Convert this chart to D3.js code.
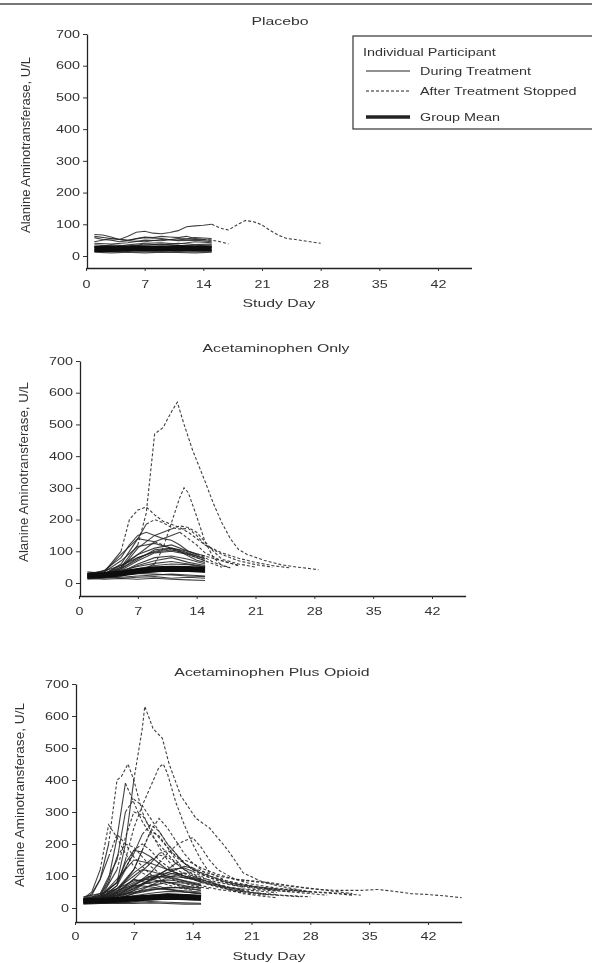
<!DOCTYPE html>
<html>
<head>
<meta charset="utf-8">
<script src="https://cdn.jsdelivr.net/npm/d3@7"></script>
<style>
    body { margin: 0; background: #fff; }
    text { font-family: "Liberation Sans", Arial, sans-serif; fill: #333; }
</style>
</head>
<body>
<div id="chart"></div>
<script>
const panelTitles = ['Placebo', 'Acetaminophen Only', 'Acetaminophen Plus Opioid'];
const yTicks = [0, 100, 200, 300, 400, 500, 600, 700];
const xTicks = [0, 7, 14, 21, 28, 35, 42];
const yLabel = 'Alanine Aminotransferase, U/L';
const xLabel = 'Study Day';
const legendTitle = 'Individual Participant';
const legendItems = ['During Treatment', 'After Treatment Stopped', 'Group Mean'];

// each participant: [last treatment day, [[day, ALT], ...]]
const placeboParticipants = [
    [15, [[1,68],[2,66],[3,60],[4,52],[5,62],[6,75],[7,78],[8,72],[9,70],[10,74],[11,80],[12,92],[13,95],[14,97],[15,100],[16,88],[17,82],[18,98],[19,112],[20,108],[21,98],[22,80],[23,65],[24,55],[25,52],[26,48],[27,44],[28,40]]],
    [14, [[1,58],[2,52],[3,50],[4,45],[5,48],[6,55],[7,60],[8,58],[9,62],[10,60],[11,58],[12,62],[13,55],[14,52],[15,50],[16,45],[17,38]]],
    [15, [[1,40],[3,38],[5,42],[7,50],[9,48],[11,55],[13,52],[15,50]]],
    [15, [[1,30],[3,28],[5,35],[7,40],[9,42],[11,38],[13,45],[15,42]]],
    [15, [[1,25],[3,22],[5,28],[7,30],[9,26],[11,30],[13,28],[15,30]]],
    [15, [[1,18],[3,20],[5,16],[7,20],[9,22],[11,18],[13,20],[15,18]]],
    [15, [[1,15],[3,14],[5,18],[7,15],[9,16],[11,14],[13,16],[15,15]]],
    [15, [[1,45],[3,55],[5,48],[7,45],[9,52],[11,50],[13,58],[15,55]]],
    [15, [[1,35],[3,32],[5,30],[7,38],[9,35],[11,40],[13,36],[15,38]]],
    [15, [[1,12],[3,10],[5,12],[7,10],[9,12],[11,11],[13,10],[15,12]]],
    [15, [[1,28],[3,35],[5,32],[7,34],[9,38],[11,34],[13,32],[15,35]]],
    [15, [[1,20],[3,26],[5,24],[7,28],[9,30],[11,26],[13,30],[15,26]]],
    [15, [[1,62],[3,55],[5,50],[7,58],[9,55],[11,48],[13,50],[15,45]]]
];
const placeboMean = [[1,22],[3,22],[5,23],[7,24],[9,24],[11,25],[13,24],[15,24]];

const apapParticipants = [
    [7, [[1,25],[3,28],[5,50],[7,120],[8,220],[9,470],[10,490],[11,540],[11.7,570],[12.5,500],[13.5,420],[15,320],[16,250],[17,190],[18,140],[19,105],[20,90],[22,72],[24,58],[26,50],[28.5,42]]],
    [9, [[1,20],[3,22],[5,25],[7,35],[9,60],[10,110],[11,190],[12,270],[12.5,300],[13,285],[14,210],[15,130],[16,80],[17,55],[18,48]]],
    [5, [[1,25],[3,35],[5,100],[6,200],[7,230],[8,240],[9,215],[10,195],[11,185],[12,175],[13,160],[14,140],[15,120],[17,95],[19,78],[21,65],[23,55],[25,48]]],
    [8, [[1,22],[3,28],[5,60],[7,140],[8,185],[9,200],[10,190],[11,175],[12,170],[13,172],[14,150],[15,120],[17,90],[19,70],[21,58],[23,50]]],
    [11, [[1,20],[3,25],[5,45],[7,110],[9,150],[11,170],[12,180],[13,175],[14,160],[15,130],[16,100],[17,75],[19,60],[21,50]]],
    [14, [[1,25],[3,40],[5,80],[6,120],[7,150],[8,160],[9,150],[10,140],[11,135],[12,120],[13,100],[14,90],[15,85],[17,70],[19,55]]],
    [9, [[1,22],[3,35],[5,90],[7,140],[9,130],[10,120],[11,105],[13,90],[15,70],[17,50]]],
    [15, [[1,20],[3,25],[5,45],[7,80],[9,100],[10,105],[11,108],[12,100],[13,85],[14,72],[15,65]]],
    [15, [[1,25],[3,25],[5,40],[7,70],[9,95],[11,100],[13,90],[15,70]]],
    [15, [[1,18],[3,22],[5,35],[7,60],[9,80],[11,85],[13,75],[15,60]]],
    [15, [[1,30],[3,28],[5,35],[7,55],[9,70],[11,80],[13,65],[15,55]]],
    [15, [[1,20],[3,20],[5,28],[7,45],[9,55],[11,60],[13,58],[15,50]]],
    [15, [[1,15],[3,18],[5,22],[7,35],[9,45],[11,48],[13,45],[15,40]]],
    [15, [[1,25],[3,22],[5,25],[7,30],[9,35],[11,40],[13,38],[15,35]]],
    [15, [[1,12],[3,15],[5,18],[7,22],[9,25],[11,28],[13,25],[15,22]]],
    [15, [[1,20],[3,18],[5,15],[7,18],[9,20],[11,15],[13,18],[15,15]]],
    [15, [[1,35],[3,30],[5,28],[7,30],[9,28],[11,25],[13,22],[15,20]]],
    [15, [[1,15],[3,12],[5,14],[7,12],[9,15],[11,12],[13,10],[15,8]]],
    [14, [[1,20],[3,30],[5,55],[7,90],[9,110],[11,120],[13,100],[14,90],[15,80],[16,65],[18,48]]],
    [12, [[1,25],[3,30],[5,50],[7,90],[9,130],[11,150],[12,160],[13,140],[14,120],[15,95],[17,70],[19,55]]],
    [15, [[1,22],[3,35],[5,70],[7,115],[9,125],[11,110],[13,95],[15,75]]],
    [15, [[1,28],[3,30],[5,45],[7,75],[9,105],[11,110],[13,100],[15,85]]],
    [15, [[1,30],[3,38],[5,55],[7,80],[9,98],[11,104],[13,92],[15,78]]],
    [15, [[1,24],[3,30],[5,40],[7,52],[9,62],[11,68],[13,60],[15,52]]],
    [15, [[1,16],[3,20],[5,26],[7,32],[9,38],[11,42],[13,40],[15,36]]]
];
const apapMean = [[1,23],[3,25],[5,30],[7,38],[9,43],[11,45],[13,44],[15,42]];

const opioidParticipants = [
    [7, [[1,25],[3,35],[5,80],[6,200],[7,400],[8,560],[8.3,630],[9.3,560],[10.4,530],[11.2,450],[12.6,350],[14.4,280],[16,250],[17.6,200],[18.2,180],[19,150],[20,110],[22,85],[24,70],[26,60],[28,50]]],
    [4, [[1,25],[2,40],[3,90],[4,200],[5,400],[5.5,410],[6.3,450],[7,400],[8,300],[9,240],[10,190],[11,150],[12,120],[14,95],[16,80],[18,65],[21,55],[24,48]]],
    [6, [[1,22],[3,30],[5,70],[6,150],[7,250],[8,320],[9,380],[10,440],[10.5,450],[11,420],[12,330],[13,260],[14,200],[15,150],[16,110],[18,85],[20,70],[23,60],[26,55],[29,50],[32,45],[34,40]]],
    [6, [[1,25],[3,40],[4,90],[5,220],[6,390],[7,330],[8,270],[9,230],[10,200],[11,170],[12,140],[14,100],[16,80],[18,65],[20,55]]],
    [3, [[1,30],[2,50],[3,120],[4,260],[5,220],[6,170],[7,130],[8,110],[9,95],[10,80],[12,65],[14,55]]],
    [6, [[1,25],[3,45],[5,150],[6,300],[7,340],[8,320],[9,280],[10,240],[11,200],[12,170],[13,140],[15,110],[17,90],[19,75],[22,65],[25,55],[28,50]]],
    [5, [[1,20],[3,30],[5,120],[6,220],[7,300],[8,290],[9,250],[10,220],[11,190],[12,150],[13,120],[15,90],[17,70],[20,55]]],
    [8, [[1,22],[3,30],[5,50],[7,120],[8,180],[9,240],[10,280],[11,250],[12,210],[13,170],[14,140],[16,100],[18,80],[21,65],[24,55]]],
    [10, [[1,20],[3,25],[5,40],[7,70],[9,110],[10,140],[11,170],[12,195],[13,210],[14,220],[15,190],[16,150],[17,120],[19,90],[21,75],[24,62],[27,55]]],
    [8, [[1,25],[3,35],[5,80],[7,170],[8,230],[9,260],[10,240],[11,200],[12,170],[13,140],[15,105],[17,85],[20,65]]],
    [5, [[1,25],[3,40],[4,80],[5,160],[6,200],[7,190],[8,160],[9,130],[10,110],[12,85],[14,70],[16,60]]],
    [4, [[1,28],[2,45],[3,90],[4,160],[5,230],[6,200],[7,160],[8,130],[9,105],[11,80],[13,65],[15,55]]],
    [10, [[1,22],[3,28],[5,45],[7,90],[9,140],[10,170],[11,180],[12,165],[13,140],[14,120],[16,100],[18,85],[20,75],[22,65],[25,58],[28,50],[31,45],[33,40]]],
    [12, [[1,20],[3,25],[5,35],[7,60],[9,90],[11,120],[12,140],[13,150],[14,140],[15,125],[17,105],[19,90],[21,85],[23,80],[25,72],[27,65],[30,55],[33,45]]],
    [14, [[1,25],[3,30],[5,40],[7,60],[9,85],[11,110],[13,130],[14,125],[15,115],[17,100],[19,90],[22,80],[25,70],[28,60],[31,55],[34,55],[36,58],[38,52],[40,45],[42,42],[44,38],[46,32]]],
    [13, [[1,20],[3,22],[5,28],[7,45],[9,70],[11,95],[13,110],[14,100],[15,90],[17,75],[19,60],[21,50],[23,42],[25,38],[27,35]]],
    [14, [[1,18],[3,20],[5,30],[7,55],[9,90],[11,120],[13,125],[14,115],[16,85],[18,60],[20,45],[22,38],[24,32]]],
    [15, [[1,25],[3,30],[5,60],[7,100],[8,120],[9,115],[11,100],[13,85],[15,75]]],
    [15, [[1,22],[3,28],[5,45],[7,75],[9,95],[11,100],[13,95],[15,85],[16,75],[18,60],[20,50]]],
    [15, [[1,20],[3,22],[5,35],[7,55],[9,70],[11,80],[13,78],[15,70]]],
    [15, [[1,25],[3,25],[5,30],[7,45],[9,55],[11,65],[13,62],[15,55]]],
    [15, [[1,18],[3,20],[5,22],[7,30],[9,40],[11,45],[13,42],[15,38]]],
    [15, [[1,15],[3,15],[5,18],[7,20],[9,25],[11,28],[13,26],[15,24]]],
    [15, [[1,20],[3,18],[5,16],[7,18],[9,20],[11,18],[13,16],[15,15]]],
    [15, [[1,30],[3,32],[5,40],[7,50],[9,60],[11,58],[13,50],[15,45]]],
    [15, [[1,12],[3,14],[5,15],[7,14],[9,16],[11,14],[13,12],[15,12]]],
    [6, [[1,22],[3,30],[5,70],[6,120],[7,180],[8,200],[9,180],[10,150],[11,130],[12,110],[14,90],[16,75],[18,65],[20,60],[23,55],[26,50]]],
    [15, [[1,25],[3,35],[5,90],[7,150],[9,140],[11,120],[13,100],[15,85]]],
    [9, [[1,20],[3,30],[5,60],[7,110],[9,150],[10,165],[11,160],[12,140],[13,120],[15,95],[17,80],[19,70],[22,60],[25,52],[28,45],[30,40]]],
    [7, [[1,25],[3,35],[5,60],[7,120],[8,180],[9,240],[10,225],[11,190],[12,160],[14,120],[16,95],[18,80],[21,68],[24,58]]],
    [15, [[1,28],[3,40],[5,80],[6,140],[7,180],[8,175],[9,160],[10,140],[11,120],[13,100],[15,90]]],
    [15, [[1,22],[3,25],[5,40],[7,70],[9,100],[11,110],[12,105],[13,95],[14,90],[15,80],[17,65],[19,55],[21,48],[23,42],[26,38],[28,35]]],
    [15, [[1,35],[3,45],[5,60],[7,85],[9,90],[11,80],[13,70],[15,60]]],
    [15, [[1,18],[3,25],[5,50],[7,90],[9,75],[11,60],[13,50],[15,45]]],
    [15, [[1,22],[3,30],[5,48],[7,68],[9,80],[11,88],[13,82],[15,72]]],
    [15, [[1,26],[3,34],[5,55],[7,72],[9,66],[11,58],[13,54],[15,50]]],
    [12, [[1,20],[3,26],[5,42],[7,64],[9,88],[11,104],[12,110],[13,100],[15,82],[17,68],[19,56],[21,48],[24,42]]],
    [15, [[1,24],[3,28],[5,38],[7,48],[9,58],[11,62],[13,66],[15,64]]],
    [15, [[1,16],[3,20],[5,28],[7,38],[9,46],[11,52],[13,50],[15,46]]],
    [13, [[1,24],[3,30],[5,52],[7,80],[9,100],[11,95],[13,85],[15,70],[17,58],[20,48],[23,40]]]
];
const opioidMean = [[1,22],[3,23],[5,26],[7,30],[9,33],[11,35],[13,34],[15,32]];


document.addEventListener('DOMContentLoaded', function () {
    const w = 592,
        h = 963,
        sx = 1.44; // the scan is stretched sideways

    const svg = d3.select('#chart')
        .append('svg')
        .attr('width', w)
        .attr('height', h);

    const defs = svg.append('defs');
    defs.append('filter').attr('id', 'scan')
        .append('feGaussianBlur').attr('stdDeviation', 0.45);

    const root = svg.append('g').attr('filter', 'url(#scan)');

    // scanner edge at the top
    root.append('line')
        .attr('x1', 0).attr('x2', w).attr('y1', 4).attr('y2', 4)
        .attr('stroke', '#777').attr('stroke-width', 2);

    const panels = [
        {title: panelTitles[0], people: placeboParticipants, mean: placeboMean,
            x0: 86, x42: 438, zeroY: 256, topY: 34, axisY: 268, titleY: 25, titleX: 280,
            labelX: 25, labelY: 145, labelLen: 176, tickY: 20, dayLabelY: 307, dayLabelX: 279},
        {title: panelTitles[1], people: apapParticipants, mean: apapMean,
            x0: 79, x42: 432, zeroY: 583, topY: 361, axisY: 596, titleY: 352, titleX: 276,
            labelX: 23, labelY: 472, labelLen: 180, tickY: 19, dayLabelY: null},
        {title: panelTitles[2], people: opioidParticipants, mean: opioidMean,
            x0: 75, x42: 428, zeroY: 908, topY: 684, axisY: 922, titleY: 676, titleX: 272,
            labelX: 19, labelY: 795, labelLen: 184, tickY: 18, dayLabelY: 960, dayLabelX: 269}
    ];

    panels.forEach(function (p) {
        const perDay = (p.x42 - p.x0) / 42;
        const x = d3.scaleLinear()
            .domain([0, 46])
            .range([p.x0, p.x0 + 46 * perDay]);
        const lo = -700 * (p.axisY - p.zeroY) / (p.zeroY - p.topY);
        const y = d3.scaleLinear()
            .domain([lo, 700])
            .range([p.axisY, p.topY]);

        const g = root.append('g');

        // title
        g.append('text')
            .attr('transform', `translate(${p.titleX},${p.titleY}) scale(${sx},1)`)
            .attr('text-anchor', 'middle')
            .attr('font-size', 11)
            .text(p.title);

        // y label
        g.append('text')
            .attr('transform', `translate(${p.labelX},${p.labelY}) scale(1.12,1) rotate(-90)`)
            .attr('text-anchor', 'middle')
            .attr('dy', '0.35em')
            .attr('font-size', 11.5)
            .attr('textLength', p.labelLen)
            .attr('lengthAdjust', 'spacingAndGlyphs')
            .text(yLabel);

        // axes
        const yAxis = g.append('g')
            .attr('transform', `translate(${x(0) + 1},0)`)
            .call(d3.axisLeft(y).tickValues(yTicks).tickSize(4).tickSizeOuter(0));
        yAxis.selectAll('text')
            .attr('x', -7 / sx)
            .attr('transform', `scale(${sx},1)`)
            .attr('font-size', 10)
            .attr('font-family', null);

        const xAxis = g.append('g')
            .attr('transform', `translate(0,${p.axisY})`)
            .call(d3.axisBottom(x).tickValues(xTicks).tickSize(3).tickSizeOuter(0));
        xAxis.selectAll('text')
            .attr('x', 0)
            .attr('y', 0)
            .attr('dy', null)
            .attr('transform', `translate(0,${p.tickY}) scale(${sx},1)`)
            .attr('font-size', 10)
            .attr('font-family', null);

        [yAxis, xAxis].forEach(function (a) {
            a.select('.domain').attr('stroke', '#222').attr('stroke-width', 1.3);
            a.selectAll('.tick line').attr('stroke', '#333');
            a.selectAll('text').attr('fill', '#333');
        });

        if (p.dayLabelY) {
            g.append('text')
                .attr('transform', `translate(${p.dayLabelX},${p.dayLabelY}) scale(${sx},1)`)
                .attr('text-anchor', 'middle')
                .attr('font-size', 11)
                .text(xLabel);
        }

        const line = d3.line()
            .x(d => x(d[0]))
            .y(d => y(d[1]));

        const lines = g.append('g').attr('fill', 'none');

        // after treatment stopped
        lines.selectAll('path.after')
            .data(p.people)
            .enter()
            .append('path')
            .attr('class', 'after')
            .attr('d', d => line(d[1].filter(pt => pt[0] >= d[0])))
            .attr('stroke', '#2a2a2a')
            .attr('stroke-width', 1.1)
            .attr('stroke-dasharray', '3,2')
            .attr('stroke-opacity', 0.9);

        // during treatment
        lines.selectAll('path.during')
            .data(p.people)
            .enter()
            .append('path')
            .attr('class', 'during')
            .attr('d', d => line(d[1].filter(pt => pt[0] <= d[0])))
            .attr('stroke', '#222')
            .attr('stroke-width', 1.1)
            .attr('stroke-opacity', 0.85);

        // group mean
        lines.append('path')
            .attr('d', line(p.mean))
            .attr('stroke', '#111')
            .attr('stroke-width', 6);
    });

    // legend
    const lg = root.append('g');
    lg.append('rect')
        .attr('x', 353).attr('y', 36)
        .attr('width', 260).attr('height', 93)
        .attr('fill', 'none')
        .attr('stroke', '#333')
        .attr('stroke-width', 1.2);
    lg.append('text')
        .attr('transform', `translate(363,56) scale(${sx},1)`)
        .attr('font-size', 10)
        .text(legendTitle);

    const legendY = [71, 91, 117];
    const legendStyle = [
        {width: 1, dash: null},
        {width: 1, dash: '3,2'},
        {width: 3.5, dash: null}
    ];
    legendItems.forEach(function (name, i) {
        lg.append('line')
            .attr('x1', 366).attr('x2', 410)
            .attr('y1', legendY[i]).attr('y2', legendY[i])
            .attr('stroke', '#222')
            .attr('stroke-width', legendStyle[i].width)
            .attr('stroke-dasharray', legendStyle[i].dash);
        lg.append('text')
            .attr('transform', `translate(420,${legendY[i] + 4}) scale(${sx},1)`)
            .attr('font-size', 10)
            .text(name);
    });
});
</script>
</body>
</html>
